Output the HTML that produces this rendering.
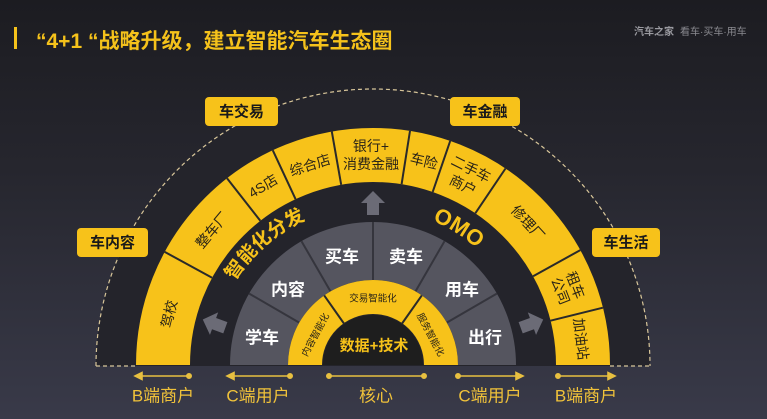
<!DOCTYPE html>
<html><head><meta charset="utf-8"><style>
html,body{margin:0;padding:0;}
body{width:767px;height:419px;overflow:hidden;background:linear-gradient(#1c1c21 0%,#26262e 40%,#393a49 100%);font-family:"Liberation Sans","Noto Sans CJK SC",sans-serif;}
svg{display:block}
</style></head><body>
<svg width="767" height="419" viewBox="0 0 767 419" xmlns="http://www.w3.org/2000/svg" font-family="Liberation Sans, Noto Sans CJK SC, sans-serif">
<rect x="14" y="27" width="3" height="22" fill="#f5c21b"/>
<text x="36" y="48" font-size="21" fill="#f5c21b" font-weight="bold">“4+1 “战略升级，建立智能汽车生态圈</text>
<text x="634" y="35" font-size="10" fill="#9a9aa0" font-weight="bold">汽车之家</text>
<text x="680" y="35" font-size="10" fill="#8a8a90">看车·买车·用车</text>

<path d="M96,366 A277,277 0 0 1 650,366 Z" fill="#24242b"/>
<path d="M96,366 A277,277 0 0 1 650,366" fill="none" stroke="#d8c69a" stroke-width="1.2" stroke-dasharray="4,3"/>
<path d="M96,366 L137,366 M610,366 L650,366" stroke="#d8c69a" stroke-width="1.2" stroke-dasharray="4,3"/>

<path d="M163,365 A210,210 0 0 1 583,365" fill="none" stroke="#f7c21a" stroke-width="54"/>
<g stroke="#2a2a2a" stroke-width="2">
<line x1="550.5" y1="320.7" x2="602.9" y2="307.7"/>
<line x1="533.1" y1="276.3" x2="580.3" y2="250.1"/>
<line x1="475.3" y1="213.3" x2="505.5" y2="168.5"/>
<line x1="432.7" y1="191.9" x2="450.2" y2="140.9"/>
<line x1="401.6" y1="184.2" x2="410.0" y2="130.9"/>
<line x1="341.2" y1="184.8" x2="331.8" y2="131.6"/>
<line x1="295.6" y1="199.2" x2="272.8" y2="150.3"/>
<line x1="260.3" y1="220.8" x2="227.0" y2="178.2"/>
<line x1="212.1" y1="277.7" x2="164.7" y2="251.9"/>
</g>
<g font-size="14" fill="#2a2418" text-anchor="middle" dominant-baseline="central">
<text transform="translate(169,314) rotate(-76)">驾校</text>
<text transform="translate(212,230) rotate(-50)">整车厂</text>
<text transform="translate(263,186) rotate(-31.5)">4S店</text>
<text transform="translate(310,165) rotate(-17.5)">综合店</text>
<text transform="translate(371,155)"><tspan x="0" y="-9">银行+</tspan><tspan x="0" y="9">消费金融</tspan></text>
<text transform="translate(424,161) rotate(14)">车险</text>
<text transform="translate(467,177) rotate(26.5)"><tspan x="0" y="-9">二手车</tspan><tspan x="0" y="9">商户</tspan></text>
<text transform="translate(528,223) rotate(47.5)">修理厂</text>
<text transform="translate(568,288) rotate(68.5)"><tspan x="0" y="-8">租车</tspan><tspan x="0" y="8">公司</tspan></text>
<text transform="translate(581,339) rotate(83)">加油站</text>
</g>

<path d="M259,365 A114,114 0 0 1 487,365" fill="none" stroke="#55555f" stroke-width="58"/>
<g stroke="#35353d" stroke-width="2">
<line x1="447" y1="322.5" x2="497" y2="293.5"/>
<line x1="415.5" y1="291.4" x2="444.5" y2="241.2"/>
<line x1="373" y1="280" x2="373" y2="222"/>
<line x1="330.5" y1="291.4" x2="301.5" y2="241.2"/>
<line x1="299" y1="322.5" x2="249" y2="293.5"/>
</g>
<g font-size="17" font-weight="bold" fill="#ffffff" text-anchor="middle" dominant-baseline="central">
<text x="262" y="338">学车</text>
<text x="288" y="290">内容</text>
<text x="342" y="257">买车</text>
<text x="406" y="257">卖车</text>
<text x="462" y="290">用车</text>
<text x="485" y="338">出行</text>
</g>

<path d="M305,365 A68,68 0 0 1 441,365" fill="none" stroke="#f7c21a" stroke-width="34"/>
<path d="M323,365 A50,50 0 0 1 423,365 Z" fill="#1e1e1e"/>
<g stroke="#2a2a2a" stroke-width="2">
<line x1="401.7" y1="324" x2="421.8" y2="295.4"/>
<line x1="344.3" y1="324" x2="324.2" y2="295.4"/>
</g>
<g font-size="9.5" fill="#2a2418" text-anchor="middle" dominant-baseline="central">
<text x="373" y="299">交易智能化</text>
<text transform="translate(316,335) rotate(-62)">内容智能化</text>
<text transform="translate(430,335) rotate(62)">服务智能化</text>
</g>
<text x="374" y="346" font-size="15" font-weight="bold" fill="#f7c21a" text-anchor="middle" dominant-baseline="central">数据+技术</text>

<defs>
<path id="pl" d="M231.7,286.1 A159,159 0 0 1 359.1,206.6"/>
<path id="pr" d="M413.4,214.3 A156,156 0 0 1 508.1,287"/>
</defs>
<text font-size="19" font-weight="bold" fill="#f7c21a"><textPath href="#pl" startOffset="6">智能化分发</textPath></text>
<text font-size="22" font-weight="bold" fill="#f7c21a"><textPath href="#pr" startOffset="20">OMO</textPath></text>

<g fill="#6b6b76">
<polygon transform="translate(373,204) rotate(-90)" points="-11,-6 1,-6 1,-12 13,0 1,12 1,6 -11,6"/>
<polygon transform="translate(215,324) rotate(-160)" points="-11,-6 1,-6 1,-12 13,0 1,12 1,6 -11,6"/>
<polygon transform="translate(531,324) rotate(-20)" points="-11,-6 1,-6 1,-12 13,0 1,12 1,6 -11,6"/>
</g>

<g fill="#f7c21a">
<rect x="205" y="97" width="73" height="29" rx="4"/>
<rect x="450" y="97" width="70" height="29" rx="4"/>
<rect x="77" y="228" width="71" height="29" rx="4"/>
<rect x="592" y="228" width="68" height="29" rx="4"/>
</g>
<g font-size="15" font-weight="bold" fill="#1a1a1a" text-anchor="middle" dominant-baseline="central">
<text x="241.5" y="112">车交易</text>
<text x="485" y="112">车金融</text>
<text x="112.5" y="243">车内容</text>
<text x="626" y="243">车生活</text>
</g>

<g stroke="#e8c040" stroke-width="1.6" fill="#e8c040">
<line x1="137" y1="376" x2="189" y2="376"/><polygon points="135,376 142,372.5 142,379.5"/><circle cx="189" cy="376" r="2.2"/>
<line x1="229" y1="376" x2="290" y2="376"/><polygon points="227,376 234,372.5 234,379.5"/><circle cx="290" cy="376" r="2.2"/>
<line x1="329" y1="376" x2="424" y2="376"/><circle cx="329" cy="376" r="2.2"/><circle cx="424" cy="376" r="2.2"/>
<line x1="458" y1="376" x2="520" y2="376"/><circle cx="458" cy="376" r="2.2"/><polygon points="523,376 516,372.5 516,379.5"/>
<line x1="558" y1="376" x2="612" y2="376"/><circle cx="558" cy="376" r="2.2"/><polygon points="615,376 608,372.5 608,379.5"/>
</g>
<g font-size="17" fill="#f0c23a" text-anchor="middle" dominant-baseline="central">
<text x="163" y="396">B端商户</text>
<text x="258" y="396">C端用户</text>
<text x="376" y="396">核心</text>
<text x="490" y="396">C端用户</text>
<text x="586" y="396">B端商户</text>
</g>
</svg>
</body></html>
